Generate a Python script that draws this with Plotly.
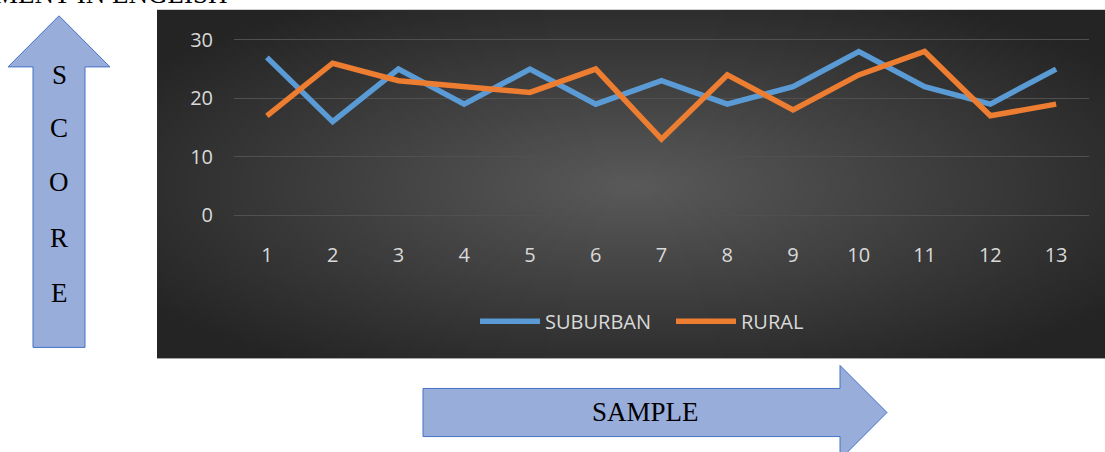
import base64
import struct
import zlib

import numpy as np
import plotly.graph_objects as go

# Data
samples = list(range(1, 14))
suburban = [27, 16, 25, 19, 25, 19, 23, 19, 22, 28, 22, 19, 25]
rural = [17, 26, 23, 22, 21, 25, 13, 24, 18, 24, 28, 17, 19]
y_ticks = [0, 10, 20, 30]

# Figure geometry (pixels); y range padded by 1 unit so the 0 and 30 gridlines show
FW, FH = 1105, 452
unit = 175 / 30
L, R = 234, 16
T, B = 40 - unit, 237 - unit
PW, PH = FW - L - R, FH - T - B


def px(x):
    return (x - L) / PW


def py(y):
    return (FH - B - y) / PH


# Radial gradient background for the dark chart panel, as a small PNG
def gradient_png(w, h):
    yy, xx = np.mgrid[0:h, 0:w]
    d = np.sqrt(((xx - w / 2) / (w / 2)) ** 2 + ((yy - h / 2) / (h / 2)) ** 2)
    d = np.clip(d / 1.25, 0, 1)
    inner = np.array([0x5a, 0x5a, 0x5a])
    outer = np.array([0x24, 0x24, 0x24])
    img = (inner[None, None, :] * (1 - d[..., None]) + outer[None, None, :] * d[..., None]).astype(np.uint8)
    raw = b"".join(b"\x00" + img[r].tobytes() for r in range(h))

    def chunk(tag, data):
        c = tag + data
        return struct.pack(">I", len(data)) + c + struct.pack(">I", zlib.crc32(c) & 0xFFFFFFFF)

    png = b"\x89PNG\r\n\x1a\n"
    png += chunk(b"IHDR", struct.pack(">IIBBBBB", w, h, 8, 2, 0, 0, 0))
    png += chunk(b"IDAT", zlib.compress(raw, 9))
    png += chunk(b"IEND", b"")
    return "data:image/png;base64," + base64.b64encode(png).decode()


fig = go.Figure()

fig.add_trace(go.Scatter(x=samples, y=suburban, mode="lines", name="SUBURBAN",
                         line=dict(color="#5B9BD5", width=5.5)))
fig.add_trace(go.Scatter(x=samples, y=rural, mode="lines", name="RURAL",
                         line=dict(color="#ED7D31", width=5.5)))

# dark chart panel
panel_x0, panel_x1, panel_y0, panel_y1 = 157, 1105, 10, 358
fig.add_layout_image(dict(
    source=gradient_png(237, 87),
    xref="paper", yref="paper",
    x=px(panel_x0), y=py(panel_y0),
    sizex=px(panel_x1) - px(panel_x0), sizey=py(panel_y0) - py(panel_y1),
    xanchor="left", yanchor="top", sizing="stretch", layer="below",
))


def path(points):
    return "M " + " L ".join(f"{px(x)},{py(y)}" for x, y in points) + " Z"


arrow_style = dict(type="path", xref="paper", yref="paper", fillcolor="#99ADDB",
                   line=dict(color="#4472C4", width=1), layer="above")

# upward arrow (SCORE)
up_arrow = [(59, 16), (110, 67), (85, 67), (85, 347), (33, 347), (33, 67), (8, 67)]
fig.add_shape(path=path(up_arrow), **arrow_style)

# rightward arrow (SAMPLE)
right_arrow = [(423, 388), (840, 388), (840, 365), (887, 412), (840, 459), (840, 436), (423, 436)]
fig.add_shape(path=path(right_arrow), **arrow_style)

serif = dict(family="Liberation Serif, Times New Roman, serif", size=27, color="#000000")

for letter, yv in zip("SCORE", [75, 128, 182, 238, 293]):
    fig.add_annotation(text=letter, xref="paper", yref="paper", x=px(59), y=py(yv),
                       showarrow=False, font=serif, xanchor="center", yanchor="middle")

fig.add_annotation(text="SAMPLE", xref="paper", yref="paper", x=px(645), y=py(411),
                   showarrow=False, font=serif, xanchor="center", yanchor="middle")

fig.add_annotation(text="MENT IN ENGLISH", xref="paper", yref="paper", x=px(229), y=py(11),
                   showarrow=False, font=serif, xanchor="right", yanchor="bottom")

tick_font = dict(family="Open Sans, sans-serif", size=20, color="#D9D9D9")

fig.update_layout(
    width=FW, height=FH,
    margin=dict(l=L, r=R, t=T, b=B, pad=0),
    paper_bgcolor="white",
    plot_bgcolor="rgba(0,0,0,0)",
    showlegend=True,
    legend=dict(orientation="h", x=px(475), y=py(321), xanchor="left", yanchor="middle",
                font=tick_font, bgcolor="rgba(0,0,0,0)", itemwidth=60,
                entrywidth=121, entrywidthmode="pixels"),
    xaxis=dict(range=[0.5, 13.5], tickmode="array", tickvals=samples,
               showgrid=False, zeroline=False, showline=False, ticks="",
               tickfont=tick_font, ticklabelstandoff=20),
    yaxis=dict(range=[-1, 31], tickmode="array", tickvals=y_ticks,
               showgrid=True, gridcolor="#505050", gridwidth=1, zeroline=False,
               showline=False, ticks="", tickfont=tick_font, ticklabelstandoff=20),
)

fig.write_html("out.html", config={"displayModeBar": False},
               post_script="document.body.style.margin='0';")
